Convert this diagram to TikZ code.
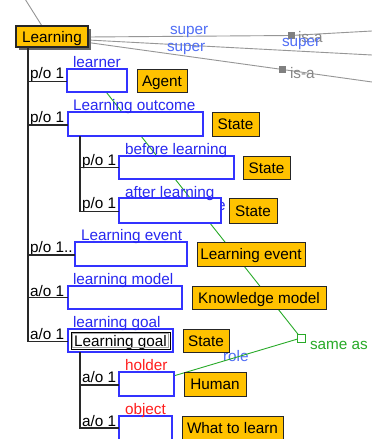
\documentclass[tikz,border=0pt]{standalone}
\usepackage{fontspec}
\setmainfont{Liberation Sans}
\usetikzlibrary{backgrounds,shadows,calc}

\definecolor{clsfill}{RGB}{255,194,0}
\definecolor{slotblue}{RGB}{51,51,255}
\definecolor{lblblue}{RGB}{40,40,240}
\definecolor{relblue}{RGB}{80,110,245}
\definecolor{isagray}{RGB}{135,135,135}
\definecolor{linkgray}{RGB}{150,150,150}
\definecolor{sameasgreen}{RGB}{40,170,40}
\definecolor{treeline}{RGB}{40,40,40}
\definecolor{holdred}{RGB}{255,30,30}

\newcommand\dfont{\fontsize{15.3}{18}\selectfont}

\begin{document}
\begin{tikzpicture}[x=1pt,y=-1pt,
  every node/.style={font=\dfont, inner sep=0pt, outer sep=0pt},
  cls/.style={draw=black!85, line width=1pt, fill=clsfill, text=black,
               text height=12pt, text depth=1pt},
  slot/.style={draw=slotblue, line width=1.1pt, fill=white},
  rolename/.style={text=lblblue, anchor=base west},
  redname/.style={text=holdred, anchor=base west},
  card/.style={text=black, anchor=base west},
  tree/.style={draw=treeline, line width=1.1pt},
  islink/.style={draw=linkgray, line width=0.9pt},
  isamark/.style={fill=gray, minimum size=7pt},
  sameline/.style={draw=sameasgreen, line width=0.9pt},
  suplabel/.style={text=relblue, anchor=base west},
  isalabel/.style={text=isagray, anchor=base west},
]
\useasboundingbox (0,0) rectangle (372,439);
\clip (0,0) rectangle (372,439);
\begin{scope}[on background layer]
  \fill[white] (0,0) rectangle (372,439);
\end{scope}

% root concept
\node[cls, line width=1.4pt, minimum width=72, minimum height=21,
      drop shadow={shadow xshift=2.5pt, shadow yshift=-2.5pt, fill=black!60, opacity=1}]
      (learning) at (52,36.5) {Learning};

% slots and their class constraints
\node[slot, minimum width=60,  minimum height=23] (learner) at (97,80.5) {};
\node[cls,  minimum width=50,  minimum height=23] (agent)   at (162,80.5) {Agent};

\node[slot, minimum width=135, minimum height=24] (outcome) at (135.5,124) {};
\node[cls,  minimum width=47,  minimum height=24] (stateA)  at (235.5,124) {State};

\node[slot, minimum width=115, minimum height=23] (before)  at (176.5,167.5) {};
\node[cls,  minimum width=47,  minimum height=23] (stateB)  at (266.5,167.5) {State};

% partly hidden role texts behind boxes
\begin{scope}[on background layer]
  \node[rolename] (hiddene) at (217,210) {e};
  \node[suplabel] (rolelbl) at (223,361) {role};
\end{scope}

\node[slot, minimum width=102, minimum height=25] (after)   at (170,210.5) {};
\node[cls,  minimum width=48,  minimum height=25] (stateC)  at (253,210.5) {State};

\node[slot, minimum width=112, minimum height=24] (event)   at (131,254) {};
\node[cls,  minimum width=108, minimum height=24] (eventc)  at (251,254) {Learning event};

\node[slot, minimum width=114, minimum height=23] (model)   at (125,297.5) {};
\node[cls,  minimum width=134, minimum height=23] (modelc)  at (259,297.5) {Knowledge model};

\node[slot, minimum width=105, minimum height=23] (goal)    at (120.5,340.5) {};
\node[draw=black, line width=1pt, minimum width=99, minimum height=17,
      text height=12pt, text depth=1pt] (goalname) at (120.5,340.5) {Learning goal};
\draw[gray!70, line width=0.6pt] ([shift={(1.6,1.6)}]goalname.north west)
      rectangle ([shift={(-1.6,-1.6)}]goalname.south east);
\node[cls,  minimum width=46,  minimum height=23] (stateD)  at (206,340.5) {State};

\node[slot, minimum width=55,  minimum height=24] (holder)  at (146.5,384) {};
\node[cls,  minimum width=62,  minimum height=24] (human)   at (215,384) {Human};

\node[slot, minimum width=53,  minimum height=24] (object)  at (145.5,428) {};
\node[cls,  minimum width=101, minimum height=24] (whatc)   at (232.5,428) {What to learn};

% role names above the slots
\node[rolename] (nLearner) at (73,67)    {learner};
\node[rolename] (nOutcome) at (73,110.5) {Learning outcome};
\node[rolename] (nBefore)  at (125,154)  {before learning};
\node[rolename] (nAfter)   at (125,197)  {after learning};
\node[rolename] (nEvent)   at (81,240.5) {Learning event};
\node[rolename] (nModel)   at (73,284)   {learning model};
\node[rolename] (nGoal)    at (73,327.5) {learning goal};
\node[redname]  (nHolder)  at (125,370.5) {holder};
\node[redname]  (nObject)  at (125,414)  {object};

% cardinalities
\node[card] (k1) at (30,78.5)  {p/o 1};
\node[card] (k2) at (30,122)   {p/o 1};
\node[card] (k3) at (82,165)   {p/o 1};
\node[card] (k4) at (82,208.5) {p/o 1};
\node[card] (k5) at (30,252)   {p/o 1..};
\node[card] (k6) at (30,296)   {a/o 1};
\node[card] (k7) at (30,339)   {a/o 1};
\node[card] (k8) at (82,382.5) {a/o 1};
\node[card] (k9) at (82,426)   {a/o 1};

% part-of tree
\coordinate (trunk) at ($(learning.south west)+(12,0)$);
\coordinate (sub1)  at ($(outcome.south west)+(12,0)$);
\coordinate (sub2)  at ($(goal.south west)+(12,0)$);
\draw[tree] (trunk) |- ([yshift=-1pt]learner.west);
\draw[tree] (trunk) |- ([yshift=-1pt]outcome.west);
\draw[tree] (trunk) |- ([yshift=-1pt]event.west);
\draw[tree] (trunk) |- (model.west);
\draw[tree] (trunk) |- ([yshift=-1pt]goal.west);
\draw[tree] (sub1) |- (before.west);
\draw[tree] (sub1) |- ([yshift=-1pt]after.west);
\draw[tree] (sub2) |- ([yshift=-1pt]holder.west);
\draw[tree] (sub2) |- (object.west);

% is-a links
\node[isamark] (isa1) at (291,35.5) {};
\node[isamark] (isa2) at (282.5,69.5) {};
\coordinate (edgeA) at (372,31);
\coordinate (edgeB) at (372,55);
\coordinate (edgeC) at (372,82);
\coordinate (edgeUp) at (25,-1);

% same-as link
\node[draw=sameasgreen, line width=0.9pt, fill=white, minimum size=8pt] (sameas) at (301,338) {};
\node[text=sameasgreen, anchor=base west] (sameaslbl) at (310,349) {same as};

\begin{scope}[on background layer]
  \draw[sameline] (learner.center) -- (sameas.center) -- (holder.center);
  \draw[islink] ([yshift=-0.5pt]learning.east) -- (isa1.center) -- (edgeA);
  \draw[islink] ([yshift=-3.5pt]learning.east) -- (edgeB);
  \draw[islink] ([yshift=-6pt]learning.east) -- (isa2.center) -- (edgeC);
  \draw[islink] ([xshift=-10pt]learning.north) -- (edgeUp);
\end{scope}

\node[suplabel] (sup1) at (170,34.5) {super};
\node[suplabel] (sup2) at (167,51)   {super};
\node[isalabel] (isaA) at (298,42)   {is-a};
\node[suplabel] (sup3) at (282,46.5) {super};
\node[isalabel] (isaB) at (290,78)   {is-a};
\end{tikzpicture}
\end{document}
